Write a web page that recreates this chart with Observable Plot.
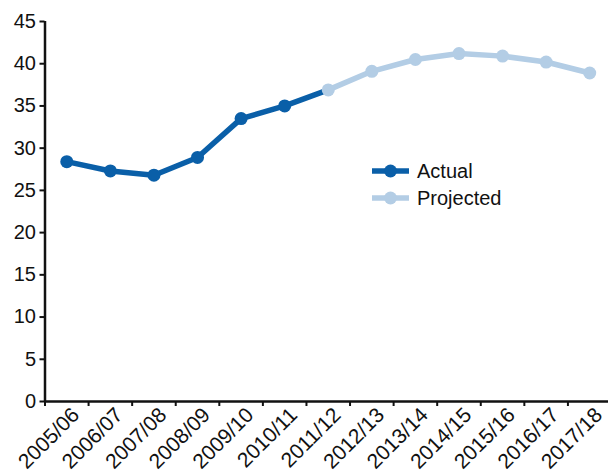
<!DOCTYPE html>
<html><head><meta charset="utf-8">
<script src="https://cdn.jsdelivr.net/npm/d3@7"></script>
<script src="https://cdn.jsdelivr.net/npm/@observablehq/plot@0.6"></script>
<style>
body{margin:0;background:#fff;}
#wrap{position:relative;width:608px;height:474px;font-family:"Liberation Sans",Arial,sans-serif;overflow:hidden;}
.leg{position:absolute;left:372px;font-size:20px;color:#111;display:flex;align-items:center;height:24px;}
.leg svg{margin-right:8px;}
</style></head><body><div id="wrap"></div>
<script>
const years = ["2005/06","2006/07","2007/08","2008/09","2009/10","2010/11","2011/12","2012/13","2013/14","2014/15","2015/16","2016/17","2017/18"];
const actualValues = [28.4, 27.3, 26.8, 28.9, 33.5, 35.0, 36.9];
const projectedValues = [36.9, 39.1, 40.5, 41.2, 40.9, 40.2, 38.9];
const projectedStart = 6;
const yTicks = [0,5,10,15,20,25,30,35,40,45];
const darkBlue = "#0a5fa8";
const lightBlue = "#b3cde5";

const actual = actualValues.map((v,i)=>({i, year: years[i], v}));
const projected = projectedValues.map((v,k)=>({i: k+projectedStart, year: years[k+projectedStart], v}));
const boundaries = d3.range(years.length + 1).map(k => k - 0.5);
const cats = years.map((y,i)=>({i, y}));

const chart = Plot.plot({
  width: 608,
  height: 474,
  marginLeft: 44.5, marginRight: -3, marginTop: 21, marginBottom: 73,
  style: {fontFamily: "'Liberation Sans', Arial, sans-serif", background: "#fff", color: "#111", overflow: "visible"},
  x: {type: "linear", domain: [-0.5, years.length - 0.5]},
  y: {domain: [0, 45]},
  marks: [
    Plot.axisY({ticks: yTicks, tickSize: 5, tickPadding: 4, fontSize: 20, tickFormat: d3.format("d"), anchor: "left", strokeWidth: 2, color: "#111", label: null}),
    Plot.axisX({ticks: boundaries, tickSize: 5, tickFormat: () => "", anchor: "bottom", strokeWidth: 2, color: "#111", label: null}),
    Plot.ruleX([-0.5], {y1: 0, y2: 45, stroke: "#111", strokeWidth: 2.5}),
    Plot.ruleY([0], {x1: -0.5, x2: years.length - 0.5, stroke: "#111", strokeWidth: 2.5}),
    Plot.text(cats, {x: "i", y: 0, text: "y", rotate: -45, textAnchor: "end", dx: 9, dy: 10, fontSize: 21, fill: "#111"}),
    Plot.line(actual, {x: "i", y: "v", stroke: darkBlue, strokeWidth: 5.5, strokeLinejoin: "round"}),
    Plot.line(projected, {x: "i", y: "v", stroke: lightBlue, strokeWidth: 5.5, strokeLinejoin: "round"}),
    Plot.dot(projected, {x: "i", y: "v", r: 6.5, fill: lightBlue}),
    Plot.dot(actual.slice(0, projectedStart), {x: "i", y: "v", r: 6.5, fill: darkBlue})
  ]
});
const wrap = document.getElementById("wrap");
wrap.appendChild(chart);

const legendItems = [{label: "Actual", color: darkBlue, top: 159}, {label: "Projected", color: lightBlue, top: 186}];
for (const it of legendItems) {
  const d = document.createElement("div");
  d.className = "leg";
  d.style.top = it.top + "px";
  d.innerHTML = `<svg width="37" height="14"><line x1="0" x2="37" y1="7" y2="7" stroke="${it.color}" stroke-width="5.5"/><circle cx="18.5" cy="7" r="6.5" fill="${it.color}"/></svg><span>${it.label}</span>`;
  wrap.appendChild(d);
}
</script></body></html>
